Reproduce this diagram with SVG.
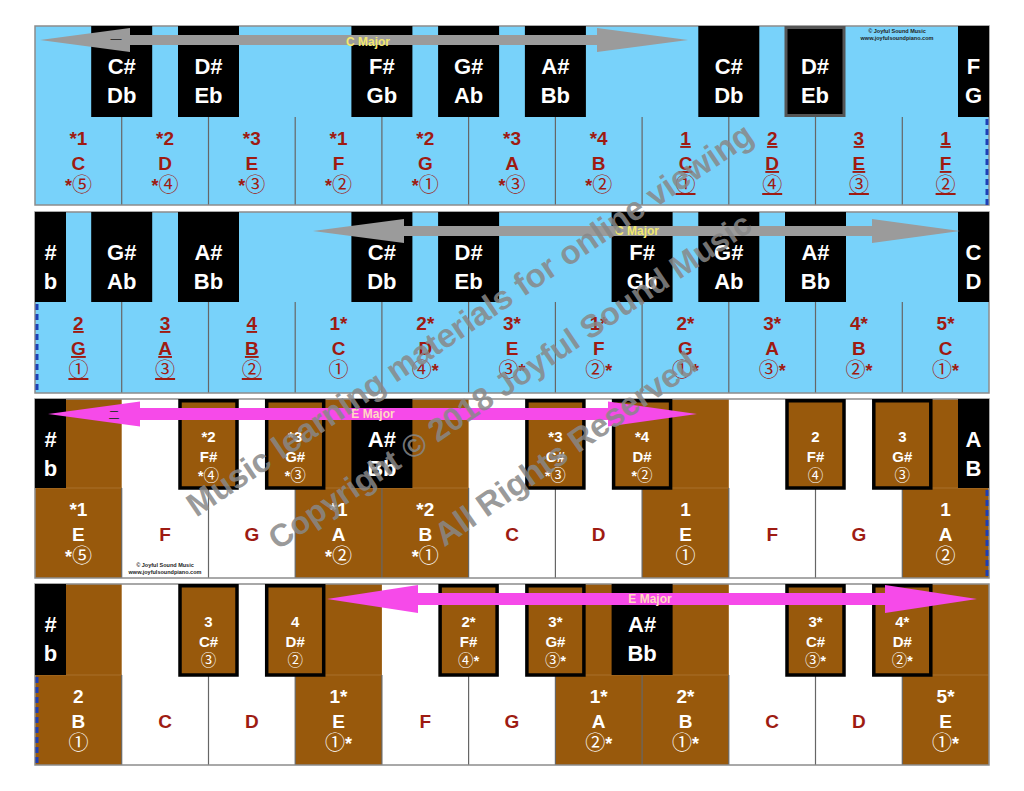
<svg xmlns="http://www.w3.org/2000/svg" width="1024" height="791" viewBox="0 0 1024 791">
<style>
.frame{fill:none;stroke:#8c8c8c;stroke-width:1.5}
.bl{fill:#78d2fa}
.br{fill:#98590c}
.wh{fill:#fff}
.bk{fill:#000}
.bd{fill:#98590c;stroke:#000;stroke-width:3.5}
.sep{stroke:#666;stroke-width:1.2}
.faint{stroke:#a8712b;stroke-width:1}
.dash{stroke:#1d3fb5;stroke-width:3;stroke-dasharray:6 4}
text{font-family:"Liberation Sans",Arial,"Noto Sans CJK JP",sans-serif;text-anchor:middle}
.k{font-size:22px;font-weight:bold;fill:#fff}
.n{font-size:19px;font-weight:bold;fill:#9e1b12}
.w{fill:#fff}
.c{font-size:20px;font-weight:normal}
.s{font-weight:bold;font-size:18px}
.b{font-size:15px;font-weight:bold;fill:#fff}
.bc{font-size:15.5px;font-weight:normal;fill:#fff}
.bc .s{font-size:14px}
.u{text-decoration:underline}
.ga{fill:#9b9b9b}
.ma{fill:#f64ae9}
.lab{font-size:12px;font-weight:bold}
.cy{fill:#f3e96e}
.cp{fill:#ffd9c2}
.tiny{font-size:5.5px;font-weight:bold;fill:#222}
.cjk{font-family:"Noto Sans CJK SC",sans-serif;font-size:12px;fill:#333}
.wm{font-size:33px;font-weight:bold;fill:#888;fill-opacity:0.85}
</style>

<!-- ROW 1 -->
<g id="row1">
<rect class="bl" x="35" y="26" width="954" height="179"/>
<g id="r1-sep">
<line class="sep" x1="121.7" y1="117" x2="121.7" y2="205"/>
<line class="sep" x1="208.5" y1="117" x2="208.5" y2="205"/>
<line class="sep" x1="295.2" y1="117" x2="295.2" y2="205"/>
<line class="sep" x1="381.9" y1="117" x2="381.9" y2="205"/>
<line class="sep" x1="468.6" y1="117" x2="468.6" y2="205"/>
<line class="sep" x1="555.4" y1="117" x2="555.4" y2="205"/>
<line class="sep" x1="642.1" y1="117" x2="642.1" y2="205"/>
<line class="sep" x1="728.8" y1="117" x2="728.8" y2="205"/>
<line class="sep" x1="815.5" y1="117" x2="815.5" y2="205"/>
<line class="sep" x1="902.3" y1="117" x2="902.3" y2="205"/>
</g>
<rect class="frame" x="35" y="26" width="954" height="179"/>
<line class="dash" x1="987" y1="119" x2="987" y2="205"/>
<g id="r1-w0"><text class="n" x="78.4" y="145">*1</text><text class="n" x="78.4" y="170">C</text><text class="n c" x="78.4" y="192"><tspan class="s">*</tspan>⑤</text></g>
<g id="r1-w1"><text class="n" x="165.1" y="145">*2</text><text class="n" x="165.1" y="170">D</text><text class="n c" x="165.1" y="192"><tspan class="s">*</tspan>④</text></g>
<g id="r1-w2"><text class="n" x="251.8" y="145">*3</text><text class="n" x="251.8" y="170">E</text><text class="n c" x="251.8" y="192"><tspan class="s">*</tspan>③</text></g>
<g id="r1-w3"><text class="n" x="338.5" y="145">*1</text><text class="n" x="338.5" y="170">F</text><text class="n c" x="338.5" y="192"><tspan class="s">*</tspan>②</text></g>
<g id="r1-w4"><text class="n" x="425.3" y="145">*2</text><text class="n" x="425.3" y="170">G</text><text class="n c" x="425.3" y="192"><tspan class="s">*</tspan>①</text></g>
<g id="r1-w5"><text class="n" x="512" y="145">*3</text><text class="n" x="512" y="170">A</text><text class="n c" x="512" y="192"><tspan class="s">*</tspan>③</text></g>
<g id="r1-w6"><text class="n" x="598.7" y="145">*4</text><text class="n" x="598.7" y="170">B</text><text class="n c" x="598.7" y="192"><tspan class="s">*</tspan>②</text></g>
<g id="r1-w7"><text class="n u" x="685.5" y="145">1</text><text class="n u" x="685.5" y="170">C</text><text class="n c u" x="685.5" y="192">①</text></g>
<g id="r1-w8"><text class="n u" x="772.2" y="145">2</text><text class="n u" x="772.2" y="170">D</text><text class="n c u" x="772.2" y="192">④</text></g>
<g id="r1-w9"><text class="n u" x="858.9" y="145">3</text><text class="n u" x="858.9" y="170">E</text><text class="n c u" x="858.9" y="192">③</text></g>
<g id="r1-w10"><text class="n u" x="945.6" y="145">1</text><text class="n u" x="945.6" y="170">F</text><text class="n c u" x="945.6" y="192">②</text></g>
<g id="r1-cs1"><rect class="bk" x="91.2" y="26" width="61" height="91"/><text class="k" x="121.7" y="74">C#</text><text class="k" x="121.7" y="103">Db</text></g>
<g id="r1-ds1"><rect class="bk" x="178" y="26" width="61" height="91"/><text class="k" x="208.5" y="74">D#</text><text class="k" x="208.5" y="103">Eb</text></g>
<g id="r1-fs"><rect class="bk" x="351.4" y="26" width="61" height="91"/><text class="k" x="381.9" y="74">F#</text><text class="k" x="381.9" y="103">Gb</text></g>
<g id="r1-gs"><rect class="bk" x="438.1" y="26" width="61" height="91"/><text class="k" x="468.6" y="74">G#</text><text class="k" x="468.6" y="103">Ab</text></g>
<g id="r1-as"><rect class="bk" x="524.9" y="26" width="61" height="91"/><text class="k" x="555.4" y="74">A#</text><text class="k" x="555.4" y="103">Bb</text></g>
<g id="r1-cs2"><rect class="bk" x="698.3" y="26" width="61" height="91"/><text class="k" x="728.8" y="74">C#</text><text class="k" x="728.8" y="103">Db</text></g>
<g id="r1-ds2"><rect class="bk" x="786" y="27.5" width="58" height="88" style="stroke:#555;stroke-width:3"/><text class="k" x="815" y="74">D#</text><text class="k" x="815" y="103">Eb</text></g>
<g id="r1-fg"><rect class="bk" x="958" y="26" width="31" height="91"/><text class="k" x="973.5" y="74">F</text><text class="k" x="973.5" y="103">G</text></g>
<g id="r1-copy"><text class="tiny" x="897" y="33">© Joyful Sound Music</text><text class="tiny" x="897" y="40">www.joyfulsoundpiano.com</text></g>
</g>

<!-- ROW 2 -->
<g id="row2">
<rect class="bl" x="35" y="212" width="954" height="181"/>
<g id="r2-sep">
<line class="sep" x1="121.7" y1="302" x2="121.7" y2="393"/>
<line class="sep" x1="208.5" y1="302" x2="208.5" y2="393"/>
<line class="sep" x1="295.2" y1="302" x2="295.2" y2="393"/>
<line class="sep" x1="381.9" y1="302" x2="381.9" y2="393"/>
<line class="sep" x1="468.6" y1="302" x2="468.6" y2="393"/>
<line class="sep" x1="555.4" y1="302" x2="555.4" y2="393"/>
<line class="sep" x1="642.1" y1="302" x2="642.1" y2="393"/>
<line class="sep" x1="728.8" y1="302" x2="728.8" y2="393"/>
<line class="sep" x1="815.5" y1="302" x2="815.5" y2="393"/>
<line class="sep" x1="902.3" y1="302" x2="902.3" y2="393"/>
</g>
<rect class="frame" x="35" y="212" width="954" height="181"/>
<line class="dash" x1="37" y1="304" x2="37" y2="393"/>
<g id="r2-w0"><text class="n u" x="78.4" y="330">2</text><text class="n u" x="78.4" y="355">G</text><text class="n c u" x="78.4" y="377">①</text></g>
<g id="r2-w1"><text class="n u" x="165.1" y="330">3</text><text class="n u" x="165.1" y="355">A</text><text class="n c u" x="165.1" y="377">③</text></g>
<g id="r2-w2"><text class="n u" x="251.8" y="330">4</text><text class="n u" x="251.8" y="355">B</text><text class="n c u" x="251.8" y="377">②</text></g>
<g id="r2-w3"><text class="n" x="338.5" y="330">1*</text><text class="n" x="338.5" y="355">C</text><text class="n c" x="338.5" y="377">①</text></g>
<g id="r2-w4"><text class="n" x="425.3" y="330">2*</text><text class="n" x="425.3" y="355">D</text><text class="n c" x="425.3" y="377">④<tspan class="s">*</tspan></text></g>
<g id="r2-w5"><text class="n" x="512" y="330">3*</text><text class="n" x="512" y="355">E</text><text class="n c" x="512" y="377">③<tspan class="s">*</tspan></text></g>
<g id="r2-w6"><text class="n" x="598.7" y="330">1*</text><text class="n" x="598.7" y="355">F</text><text class="n c" x="598.7" y="377">②<tspan class="s">*</tspan></text></g>
<g id="r2-w7"><text class="n" x="685.5" y="330">2*</text><text class="n" x="685.5" y="355">G</text><text class="n c" x="685.5" y="377">①<tspan class="s">*</tspan></text></g>
<g id="r2-w8"><text class="n" x="772.2" y="330">3*</text><text class="n" x="772.2" y="355">A</text><text class="n c" x="772.2" y="377">③<tspan class="s">*</tspan></text></g>
<g id="r2-w9"><text class="n" x="858.9" y="330">4*</text><text class="n" x="858.9" y="355">B</text><text class="n c" x="858.9" y="377">②<tspan class="s">*</tspan></text></g>
<g id="r2-w10"><text class="n" x="945.6" y="330">5*</text><text class="n" x="945.6" y="355">C</text><text class="n c" x="945.6" y="377">①<tspan class="s">*</tspan></text></g>
<g id="r2-half-l"><rect class="bk" x="35" y="212" width="31" height="90"/><text class="k" x="50.5" y="260">#</text><text class="k" x="50.5" y="289">b</text></g>
<g id="r2-gs1"><rect class="bk" x="91.2" y="212" width="61" height="90"/><text class="k" x="121.7" y="260">G#</text><text class="k" x="121.7" y="289">Ab</text></g>
<g id="r2-as1"><rect class="bk" x="178" y="212" width="61" height="90"/><text class="k" x="208.5" y="260">A#</text><text class="k" x="208.5" y="289">Bb</text></g>
<g id="r2-cs"><rect class="bk" x="351.4" y="212" width="61" height="90"/><text class="k" x="381.9" y="260">C#</text><text class="k" x="381.9" y="289">Db</text></g>
<g id="r2-ds"><rect class="bk" x="438.1" y="212" width="61" height="90"/><text class="k" x="468.6" y="260">D#</text><text class="k" x="468.6" y="289">Eb</text></g>
<g id="r2-fs"><rect class="bk" x="611.6" y="212" width="61" height="90"/><text class="k" x="642.1" y="260">F#</text><text class="k" x="642.1" y="289">Gb</text></g>
<g id="r2-gs2"><rect class="bk" x="698.3" y="212" width="61" height="90"/><text class="k" x="728.8" y="260">G#</text><text class="k" x="728.8" y="289">Ab</text></g>
<g id="r2-as2"><rect class="bk" x="785" y="212" width="61" height="90"/><text class="k" x="815.5" y="260">A#</text><text class="k" x="815.5" y="289">Bb</text></g>
<g id="r2-half-r"><rect class="bk" x="958" y="212" width="31" height="90"/><text class="k" x="973.5" y="260">C</text><text class="k" x="973.5" y="289">D</text></g>
</g>

<!-- ROW 3 -->
<g id="row3">
<rect class="wh" x="35" y="399" width="954" height="179"/>
<rect class="br" x="35" y="399" width="86.7" height="179"/>
<rect class="br" x="295.2" y="399" width="173.4" height="179"/>
<rect class="br" x="642.1" y="399" width="86.7" height="179"/>
<rect class="br" x="902.3" y="399" width="86.7" height="179"/>
<line class="faint" x1="35" y1="488" x2="121.7" y2="488"/>
<line class="faint" x1="295.2" y1="488" x2="468.6" y2="488"/>
<line class="faint" x1="642.1" y1="488" x2="728.8" y2="488"/>
<line class="faint" x1="902.3" y1="488" x2="989" y2="488"/>
<g id="r3-sep">
<line class="sep" x1="121.7" y1="488" x2="121.7" y2="578"/>
<line class="sep" x1="208.5" y1="488" x2="208.5" y2="578"/>
<line class="sep" x1="295.2" y1="488" x2="295.2" y2="578"/>
<line class="sep" x1="381.9" y1="488" x2="381.9" y2="578"/>
<line class="sep" x1="468.6" y1="488" x2="468.6" y2="578"/>
<line class="sep" x1="555.4" y1="488" x2="555.4" y2="578"/>
<line class="sep" x1="642.1" y1="488" x2="642.1" y2="578"/>
<line class="sep" x1="728.8" y1="488" x2="728.8" y2="578"/>
<line class="sep" x1="815.5" y1="488" x2="815.5" y2="578"/>
<line class="sep" x1="902.3" y1="488" x2="902.3" y2="578"/>
</g>
<rect class="frame" x="35" y="399" width="954" height="179"/>
<line class="dash" x1="987" y1="490" x2="987" y2="578"/>
<g id="r3-w0"><text class="n w" x="78.4" y="516">*1</text><text class="n w" x="78.4" y="541">E</text><text class="n c w" x="78.4" y="563"><tspan class="s">*</tspan>⑤</text></g>
<g id="r3-w1"><text class="n" x="165.1" y="541">F</text></g>
<g id="r3-w2"><text class="n" x="251.8" y="541">G</text></g>
<g id="r3-w3"><text class="n w" x="338.5" y="516">*1</text><text class="n w" x="338.5" y="541">A</text><text class="n c w" x="338.5" y="563"><tspan class="s">*</tspan>②</text></g>
<g id="r3-w4"><text class="n w" x="425.3" y="516">*2</text><text class="n w" x="425.3" y="541">B</text><text class="n c w" x="425.3" y="563"><tspan class="s">*</tspan>①</text></g>
<g id="r3-w5"><text class="n" x="512" y="541">C</text></g>
<g id="r3-w6"><text class="n" x="598.7" y="541">D</text></g>
<g id="r3-w7"><text class="n w" x="685.5" y="516">1</text><text class="n w" x="685.5" y="541">E</text><text class="n c w" x="685.5" y="563">①</text></g>
<g id="r3-w8"><text class="n" x="772.2" y="541">F</text></g>
<g id="r3-w9"><text class="n" x="858.9" y="541">G</text></g>
<g id="r3-w10"><text class="n w" x="945.6" y="516">1</text><text class="n w" x="945.6" y="541">A</text><text class="n c w" x="945.6" y="563">②</text></g>
<g id="r3-half-l"><rect class="bk" x="35" y="399" width="31" height="89"/><text class="k" x="50.5" y="447">#</text><text class="k" x="50.5" y="476">b</text></g>
<g id="r3-fs1"><rect class="bd" x="180" y="400.75" width="57" height="87.25"/><text class="b" x="208.5" y="442">*2</text><text class="b" x="208.5" y="462">F#</text><text class="bc" x="208.5" y="481"><tspan class="s">*</tspan>④</text></g>
<g id="r3-gs1"><rect class="bd" x="266.7" y="400.75" width="57" height="87.25"/><text class="b" x="295.2" y="442">*3</text><text class="b" x="295.2" y="462">G#</text><text class="bc" x="295.2" y="481"><tspan class="s">*</tspan>③</text></g>
<g id="r3-as"><rect class="bk" x="351.4" y="399" width="61" height="89"/><text class="k" x="381.9" y="447">A#</text><text class="k" x="381.9" y="476">Bb</text></g>
<g id="r3-cs"><rect class="bd" x="526.9" y="400.75" width="57" height="87.25"/><text class="b" x="555.4" y="442">*3</text><text class="b" x="555.4" y="462">C#</text><text class="bc" x="555.4" y="481"><tspan class="s">*</tspan>③</text></g>
<g id="r3-ds"><rect class="bd" x="613.6" y="400.75" width="57" height="87.25"/><text class="b" x="642.1" y="442">*4</text><text class="b" x="642.1" y="462">D#</text><text class="bc" x="642.1" y="481"><tspan class="s">*</tspan>②</text></g>
<g id="r3-fs2"><rect class="bd" x="787" y="400.75" width="57" height="87.25"/><text class="b" x="815.5" y="442">2</text><text class="b" x="815.5" y="462">F#</text><text class="bc" x="815.5" y="481">④</text></g>
<g id="r3-gs2"><rect class="bd" x="873.8" y="400.75" width="57" height="87.25"/><text class="b" x="902.3" y="442">3</text><text class="b" x="902.3" y="462">G#</text><text class="bc" x="902.3" y="481">③</text></g>
<g id="r3-half-r"><rect class="bk" x="958" y="399" width="31" height="89"/><text class="k" x="973.5" y="447">A</text><text class="k" x="973.5" y="476">B</text></g>
<g id="r3-copy"><text class="tiny" x="165" y="567">© Joyful Sound Music</text><text class="tiny" x="165" y="574">www.joyfulsoundpiano.com</text></g>
</g>

<!-- ROW 4 -->
<g id="row4">
<rect class="wh" x="35" y="584" width="954" height="181"/>
<rect class="br" x="35" y="584" width="86.7" height="181"/>
<rect class="br" x="295.2" y="584" width="86.7" height="181"/>
<rect class="br" x="555.4" y="584" width="173.4" height="181"/>
<rect class="br" x="902.3" y="584" width="86.7" height="181"/>
<line class="faint" x1="35" y1="675" x2="121.7" y2="675"/>
<line class="faint" x1="295.2" y1="675" x2="381.9" y2="675"/>
<line class="faint" x1="555.4" y1="675" x2="728.8" y2="675"/>
<line class="faint" x1="902.3" y1="675" x2="989" y2="675"/>
<g id="r4-sep">
<line class="sep" x1="121.7" y1="675" x2="121.7" y2="765"/>
<line class="sep" x1="208.5" y1="675" x2="208.5" y2="765"/>
<line class="sep" x1="295.2" y1="675" x2="295.2" y2="765"/>
<line class="sep" x1="381.9" y1="675" x2="381.9" y2="765"/>
<line class="sep" x1="468.6" y1="675" x2="468.6" y2="765"/>
<line class="sep" x1="555.4" y1="675" x2="555.4" y2="765"/>
<line class="sep" x1="642.1" y1="675" x2="642.1" y2="765"/>
<line class="sep" x1="728.8" y1="675" x2="728.8" y2="765"/>
<line class="sep" x1="815.5" y1="675" x2="815.5" y2="765"/>
<line class="sep" x1="902.3" y1="675" x2="902.3" y2="765"/>
</g>
<rect class="frame" x="35" y="584" width="954" height="181"/>
<line class="dash" x1="37" y1="677" x2="37" y2="765"/>
<g id="r4-w0"><text class="n w" x="78.4" y="703">2</text><text class="n w" x="78.4" y="728">B</text><text class="n c w" x="78.4" y="750">①</text></g>
<g id="r4-w1"><text class="n" x="165.1" y="728">C</text></g>
<g id="r4-w2"><text class="n" x="251.8" y="728">D</text></g>
<g id="r4-w3"><text class="n w" x="338.5" y="703">1*</text><text class="n w" x="338.5" y="728">E</text><text class="n c w" x="338.5" y="750">①<tspan class="s">*</tspan></text></g>
<g id="r4-w4"><text class="n" x="425.3" y="728">F</text></g>
<g id="r4-w5"><text class="n" x="512" y="728">G</text></g>
<g id="r4-w6"><text class="n w" x="598.7" y="703">1*</text><text class="n w" x="598.7" y="728">A</text><text class="n c w" x="598.7" y="750">②<tspan class="s">*</tspan></text></g>
<g id="r4-w7"><text class="n w" x="685.5" y="703">2*</text><text class="n w" x="685.5" y="728">B</text><text class="n c w" x="685.5" y="750">①<tspan class="s">*</tspan></text></g>
<g id="r4-w8"><text class="n" x="772.2" y="728">C</text></g>
<g id="r4-w9"><text class="n" x="858.9" y="728">D</text></g>
<g id="r4-w10"><text class="n w" x="945.6" y="703">5*</text><text class="n w" x="945.6" y="728">E</text><text class="n c w" x="945.6" y="750">①<tspan class="s">*</tspan></text></g>
<g id="r4-half-l"><rect class="bk" x="35" y="584" width="31" height="91"/><text class="k" x="50.5" y="632">#</text><text class="k" x="50.5" y="661">b</text></g>
<g id="r4-cs1"><rect class="bd" x="180" y="585.75" width="57" height="89.25"/><text class="b" x="208.5" y="627">3</text><text class="b" x="208.5" y="647">C#</text><text class="bc" x="208.5" y="666">③</text></g>
<g id="r4-ds1"><rect class="bd" x="266.7" y="585.75" width="57" height="89.25"/><text class="b" x="295.2" y="627">4</text><text class="b" x="295.2" y="647">D#</text><text class="bc" x="295.2" y="666">②</text></g>
<g id="r4-fs"><rect class="bd" x="440.1" y="585.75" width="57" height="89.25"/><text class="b" x="468.6" y="627">2*</text><text class="b" x="468.6" y="647">F#</text><text class="bc" x="468.6" y="666">④<tspan class="s">*</tspan></text></g>
<g id="r4-gs"><rect class="bd" x="526.9" y="585.75" width="57" height="89.25"/><text class="b" x="555.4" y="627">3*</text><text class="b" x="555.4" y="647">G#</text><text class="bc" x="555.4" y="666">③<tspan class="s">*</tspan></text></g>
<g id="r4-as"><rect class="bk" x="611.6" y="584" width="61" height="91"/><text class="k" x="642.1" y="632">A#</text><text class="k" x="642.1" y="661">Bb</text></g>
<g id="r4-cs2"><rect class="bd" x="787" y="585.75" width="57" height="89.25"/><text class="b" x="815.5" y="627">3*</text><text class="b" x="815.5" y="647">C#</text><text class="bc" x="815.5" y="666">③<tspan class="s">*</tspan></text></g>
<g id="r4-ds2"><rect class="bd" x="873.8" y="585.75" width="57" height="89.25"/><text class="b" x="902.3" y="627">4*</text><text class="b" x="902.3" y="647">D#</text><text class="bc" x="902.3" y="666">②<tspan class="s">*</tspan></text></g>
</g>

<!-- ARROWS -->
<g id="connectors">
<g id="arrow-r1"><polygon class="ga" points="40,40 130,28 130,35 597,35 597,28 688,40 597,52 597,45 130,45 130,52"/><text class="cjk" x="116" y="45">一</text><text class="lab cy" x="368" y="46">C Major</text></g>
<g id="arrow-r2"><polygon class="ga" points="313,231 404,219 404,226 872,226 872,219 960,231 872,243 872,236 404,236 404,243"/><text class="lab cy" x="637" y="235">C Major</text></g>
<g id="arrow-r3"><polygon class="ma" points="48,414 140,401.5 140,408 608,408 608,401.5 697,414 608,426.5 608,420 140,420 140,426.5"/><text class="cjk" x="114" y="419" style="font-size:11px">二</text><text class="lab cp" x="373" y="418">E Major</text></g>
<g id="arrow-r4"><polygon class="ma" points="327,599 418,585 418,593 885,593 885,585 977,599 885,613 885,605 418,605 418,613"/><text class="lab cp" x="650" y="603">E Major</text></g>
</g>

<!-- WATERMARK -->
<g id="watermark">
<text class="wm" x="476" y="329" transform="rotate(-34 476 329)">Music learning materials for online viewing</text>
<text class="wm" x="516" y="390" transform="rotate(-34 516 390)" style="font-size:32px">Copyright © 2018 Joyful Sound Music</text>
<text class="wm" x="572" y="458" transform="rotate(-35 572 458)">All Rights Reserved</text>
</g>
</svg>
